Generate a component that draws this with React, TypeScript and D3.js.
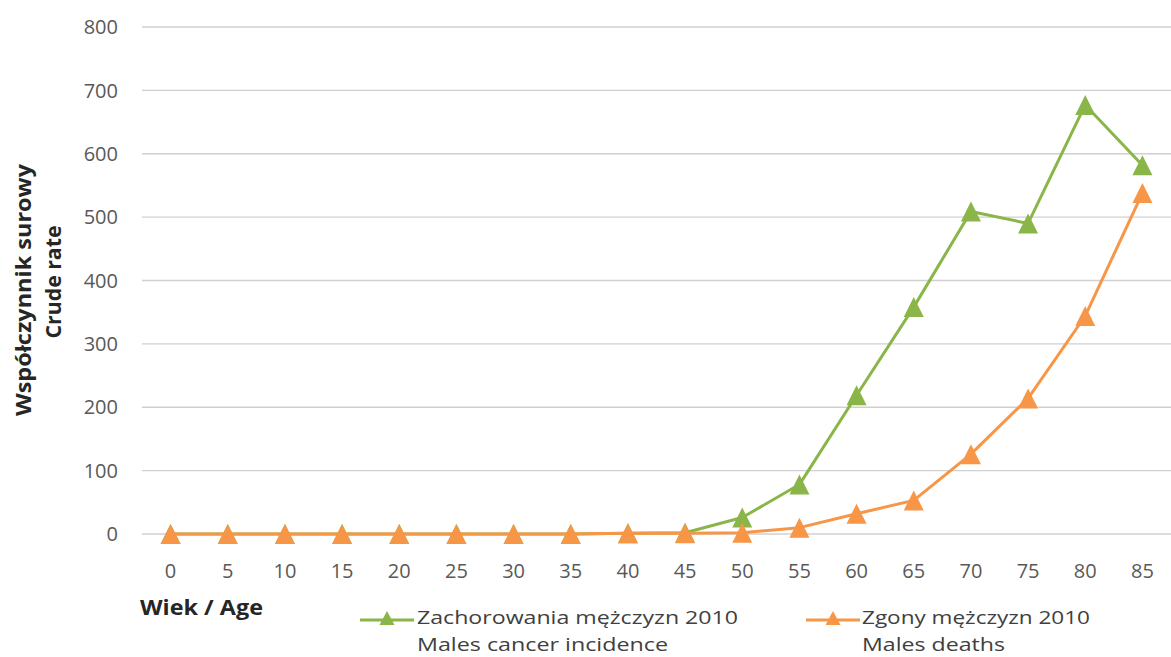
import React from "react";
import * as d3 from "d3";

const ages = ["0","5","10","15","20","25","30","35","40","45","50","55","60","65","70","75","80","85"];
const incidence = [0,0,0,0,0,0,0,0,1,2,26,78,219,358,509,490,677,582];
const deaths = [0,0,0,0,0,0,0,0,1,1,2,10,32,53,126,214,344,538];
const yTicks = [0,100,200,300,400,500,600,700,800];
const seriesNames = [
  ["Zachorowania mężczyzn 2010", "Males cancer incidence"],
  ["Zgony mężczyzn 2010", "Males deaths"],
];
const colors = ["#8AB548", "#F79646"];

const W = 1171, H = 657;
const FONT = "'Open Sans', 'DejaVu Sans', sans-serif";

function tri(cx: number, cy: number, w: number, h: number) {
  return `M${cx - w / 2},${cy + h / 2}L${cx},${cy - h / 2}L${cx + w / 2},${cy + h / 2}Z`;
}

export default function App() {
  const x = d3.scaleBand<string>().domain(ages).range([142, 1171]);
  const y = d3.scaleLinear().domain([0, 800]).range([534, 27]);
  const cx = (a: string) => (x(a) as number) + x.bandwidth() / 2;
  const line = d3.line<number>().x((_, i) => cx(ages[i])).y((v) => y(v));
  const series = [incidence, deaths];

  return (
    <svg width={W} height={H} style={{ position: "absolute", left: 0, top: 0, background: "#fff" }} fontFamily={FONT}>
      {yTicks.map((t) => (
        <g key={t}>
          <line x1={142} x2={1171} y1={y(t)} y2={y(t)} stroke="#d0d0d0" strokeWidth={1.4} />
          <text x={118} y={y(t)} dy="0.36em" textAnchor="end" fontSize={20} fill="#595959">{t}</text>
        </g>
      ))}
      {ages.map((a) => (
        <text key={a} x={cx(a)} y={578} textAnchor="middle" fontSize={20} fill="#595959">{a}</text>
      ))}
      {series.map((s, k) => (
        <g key={k}>
          <path d={line(s) || ""} fill="none" stroke={colors[k]} strokeWidth={3} strokeLinejoin="round" />
          {s.map((v, i) => (
            <path key={i} d={tri(cx(ages[i]), y(v), 20, 20)} fill={colors[k]} />
          ))}
        </g>
      ))}
      <g transform="translate(31,290) rotate(-90)">
        <text textAnchor="middle" fontSize={22} fontWeight="bold" fill="#262626" textLength={252} lengthAdjust="spacingAndGlyphs">Współczynnik surowy</text>
      </g>
      <g transform="translate(61,282) rotate(-90)">
        <text textAnchor="middle" fontSize={22} fontWeight="bold" fill="#262626" textLength={113} lengthAdjust="spacingAndGlyphs">Crude rate</text>
      </g>
      <text x={140} y={615} fontSize={21} fontWeight="bold" fill="#262626" textLength={123} lengthAdjust="spacingAndGlyphs">Wiek / Age</text>
      {[{ lx: 360, tx: 417, w1: 321, w2: 251 }, { lx: 806, tx: 862, w1: 228, w2: 143 }].map((L, k) => (
        <g key={k}>
          <line x1={L.lx} x2={L.lx + 54} y1={620} y2={620} stroke={colors[k]} strokeWidth={3} />
          <path d={tri(L.lx + 27, 618, 15, 14)} fill={colors[k]} />
          <text x={L.tx} y={624} fontSize={19} fill="#404040" textLength={L.w1} lengthAdjust="spacingAndGlyphs">{seriesNames[k][0]}</text>
          <text x={L.tx} y={651} fontSize={19} fill="#404040" textLength={L.w2} lengthAdjust="spacingAndGlyphs">{seriesNames[k][1]}</text>
        </g>
      ))}
    </svg>
  );
}
